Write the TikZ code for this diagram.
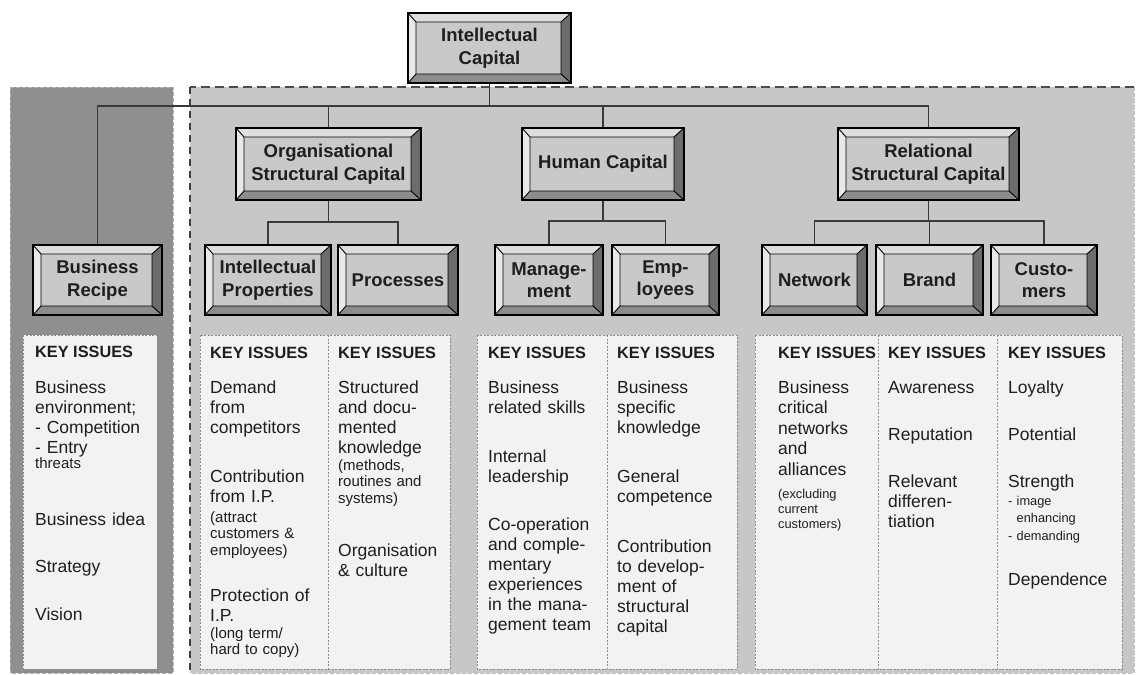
\documentclass[tikz,border=0pt]{standalone}
\usepackage{fontspec}
\setmainfont{Liberation Sans}
\usetikzlibrary{calc}

\definecolor{face}{HTML}{C9C9C9}
\definecolor{bvtop}{HTML}{DEDEDE}
\definecolor{bvleft}{HTML}{E8E8E8}
\definecolor{bvright}{HTML}{6C6C6C}
\definecolor{bvbottom}{HTML}{8C8C8C}
\definecolor{panelL}{HTML}{8F8F8F}
\definecolor{panelR}{HTML}{C7C7C7}
\definecolor{sheet}{HTML}{F2F2F2}
\definecolor{ink}{HTML}{1E1E1E}
\definecolor{wire}{HTML}{3A3A3A}

\tikzset{
  bevelbox/.style={rectangle, draw=black, line width=1.1pt, fill=face,
    align=center, inner sep=0pt, text=ink,
    font=\bfseries\fontsize{18.5}{22.5}\selectfont,
    path picture={
      \path (path picture bounding box.north west) coordinate (bvA)
            (path picture bounding box.north east) coordinate (bvB)
            (path picture bounding box.south east) coordinate (bvC)
            (path picture bounding box.south west) coordinate (bvD);
      \path ($(bvA)+(8pt,-9pt)$) coordinate (bva)
            ($(bvB)+(-10pt,-9pt)$) coordinate (bvb)
            ($(bvC)+(-10pt,9pt)$) coordinate (bvc)
            ($(bvD)+(8pt,9pt)$) coordinate (bvd);
      \fill[bvtop] (bvA) -- (bvB) -- (bvb) -- (bva) -- cycle;
      \fill[bvright] (bvB) -- (bvC) -- (bvc) -- (bvb) -- cycle;
      \fill[bvbottom] (bvC) -- (bvD) -- (bvd) -- (bvc) -- cycle;
      \fill[bvleft] (bvD) -- (bvA) -- (bva) -- (bvd) -- cycle;
      \draw[black, line width=0.9pt] (bva) rectangle (bvc)
            (bvA) -- (bva) (bvB) -- (bvb) (bvC) -- (bvc) (bvD) -- (bvd);
    }},
  conn/.style={draw=wire, line width=1.2pt},
  sheetbox/.style={fill=sheet, draw=black!45, line width=0.7pt, dash pattern=on 2pt off 1.5pt},
  kihead/.style={anchor=base west, inner sep=0pt, text=ink,
    font=\bfseries\fontsize{16.3}{19}\selectfont},
  kitext/.style={anchor=base west, inner sep=0pt, text=ink, text width=125pt, align=left,
    font=\fontsize{17.5}{20}\selectfont},
  kismall/.style={anchor=base west, inner sep=0pt, text=ink, text width=125pt, align=left,
    font=\fontsize{15}{16.8}\selectfont},
  kitiny/.style={anchor=base west, inner sep=0pt, text=ink, text width=125pt, align=left,
    font=\fontsize{12.8}{15}\selectfont},
}

\begin{document}
\begin{tikzpicture}[x=1pt, y=-1pt]
\useasboundingbox (0,0) rectangle (1136,675);
\fill[white] (0,0) rectangle (1136,675);

% background panels
\fill[panelL] (10,87) rectangle (173,673);
\draw[black!30, line width=0.8pt, dash pattern=on 4pt off 2pt] (10,87) rectangle (173,673);
\fill[panelR] (190,87) rectangle (1134,673);
\draw[black!25, line width=0.8pt, dash pattern=on 4pt off 2pt] (1134,87) -- (1134,673) -- (190,673);
\draw[black!70, line width=2pt, dash pattern=on 9pt off 5pt] (1134,87) -- (190,87);
\draw[black!75, line width=1.5pt, dash pattern=on 7pt off 5pt] (190,87) -- (190,673);

% key issue sheets
\path[sheetbox] (23,335) rectangle (157,669);
\path[sheetbox] (200,335) rectangle (450,669);
\draw[black!45, line width=0.7pt, dash pattern=on 2pt off 1.5pt] (328,335) -- (328,669);
\path[sheetbox] (477,335) rectangle (737,669);
\draw[black!45, line width=0.7pt, dash pattern=on 2pt off 1.5pt] (607,335) -- (607,669);
\path[sheetbox] (755,335) rectangle (1122,669);
\draw[black!45, line width=0.7pt, dash pattern=on 2pt off 1.5pt] (878,335) -- (878,669) (997,335) -- (997,669);

% hierarchy boxes
\node[bevelbox, minimum width=163pt, minimum height=70pt] (ic) at (489.5,48) {Intellectual\\Capital};
\node[bevelbox, minimum width=185pt, minimum height=72pt] (osc) at (328.5,164) {Organisational\\Structural Capital};
\node[bevelbox, minimum width=162pt, minimum height=72pt] (hc) at (603,164) {Human Capital};
\node[bevelbox, minimum width=181pt, minimum height=72pt] (rsc) at (928.5,164) {Relational\\Structural Capital};
\node[bevelbox, minimum width=129pt, minimum height=70pt] (br) at (97.5,280) {Business\\Recipe};
\node[bevelbox, minimum width=126pt, minimum height=70pt] (ip) at (268,280) {Intellectual\\Properties};
\node[bevelbox, minimum width=120pt, minimum height=70pt] (proc) at (398,280) {Processes};
\node[bevelbox, minimum width=108pt, minimum height=70pt] (mgmt) at (549,280) {Manage-\\ment};
\node[bevelbox, minimum width=107pt, minimum height=70pt] (emp) at (665.5,280) {Emp-\\loyees};
\node[bevelbox, minimum width=105pt, minimum height=70pt] (net) at (814.5,280) {Network};
\node[bevelbox, minimum width=107pt, minimum height=70pt] (brand) at (929.5,280) {Brand};
\node[bevelbox, minimum width=106pt, minimum height=70pt] (cust) at (1044,280) {Custo-\\mers};

% connectors
\coordinate (trunk) at (ic.south |- 0,106);
\coordinate (oscj) at (osc.south |- 0,222);
\coordinate (hcj) at (hc.south |- 0,221);
\coordinate (rscj) at (rsc.south |- 0,221);
\draw[conn] (ic.south) -- (trunk);
\draw[conn] (trunk) -| (br.north);
\draw[conn] (trunk) -| (osc.north);
\draw[conn] (trunk) -| (hc.north);
\draw[conn] (trunk) -| (rsc.north);
\draw[conn] (osc.south) -- (oscj);
\draw[conn] (oscj) -| (ip.north);
\draw[conn] (oscj) -| (proc.north);
\draw[conn] (hc.south) -- (hcj);
\draw[conn] (hcj) -| (mgmt.north);
\draw[conn] (hcj) -| (emp.north);
\draw[conn] (rsc.south) -- (rscj);
\draw[conn] (rscj) -| (net.north);
\draw[conn] (rscj) -| (brand.north);
\draw[conn] (rscj) -| (cust.north);

% key issues: business recipe
\node[kihead] (k0) at (35,357) {KEY ISSUES};
\node[kitext] (k0a) at (35,393) {Business\\environment;\\- Competition\\- Entry};
\node[kismall] (k0b) at (35,468) {threats};
\node[kitext] (k0c) at (35,525) {Business idea};
\node[kitext] (k0d) at (35,572) {Strategy};
\node[kitext] (k0e) at (35,620) {Vision};

% key issues: intellectual properties
\node[kihead] (k1) at (210,358) {KEY ISSUES};
\node[kitext] (k1a) at (210,393) {Demand\\from\\competitors};
\node[kitext] (k1b) at (210,482) {Contribution\\from I.P.};
\node[kismall] (k1c) at (210,522) {(attract\\customers \&\\employees)};
\node[kitext] (k1d) at (210,601) {Protection of\\I.P.};
\node[kismall] (k1e) at (210,638) {(long term/\\hard to copy)};

% key issues: processes
\node[kihead] (k2) at (338,358) {KEY ISSUES};
\node[kitext] (k2a) at (338,393) {Structured\\and docu-\\mented\\knowledge};
\node[kismall] (k2b) at (338,470) {(methods,\\routines and\\systems)};
\node[kitext] (k2c) at (338,556) {Organisation\\\& culture};

% key issues: management
\node[kihead] (k3) at (488,358) {KEY ISSUES};
\node[kitext] (k3a) at (488,393) {Business\\related skills};
\node[kitext] (k3b) at (488,462) {Internal\\leadership};
\node[kitext] (k3c) at (488,530) {Co-operation\\and comple-\\mentary\\experiences\\in the mana-\\gement team};

% key issues: employees
\node[kihead] (k4) at (617,358) {KEY ISSUES};
\node[kitext] (k4a) at (617,393) {Business\\specific\\knowledge};
\node[kitext] (k4b) at (617,482) {General\\competence};
\node[kitext] (k4c) at (617,552) {Contribution\\to develop-\\ment of\\structural\\capital};

% key issues: network
\node[kihead] (k5) at (778,358) {KEY ISSUES};
\node[kitext, font=\fontsize{17.5}{20.5}\selectfont] (k5a) at (778,393) {Business\\critical\\networks\\and\\alliances};
\node[kitiny] (k5b) at (778,498) {(excluding\\current\\customers)};

% key issues: brand
\node[kihead] (k6) at (888,358) {KEY ISSUES};
\node[kitext] (k6a) at (888,393) {Awareness};
\node[kitext] (k6b) at (888,440) {Reputation};
\node[kitext] (k6c) at (888,487) {Relevant\\differen-\\tiation};

% key issues: customers
\node[kihead] (k7) at (1008,358) {KEY ISSUES};
\node[kitext] (k7a) at (1008,393) {Loyalty};
\node[kitext] (k7b) at (1008,440) {Potential};
\node[kitext] (k7c) at (1008,487) {Strength};
\node[kitiny, font=\fontsize{12.8}{17.5}\selectfont] (k7d) at (1008,505) {- image\\\phantom{- }enhancing\\- demanding};
\node[kitext] (k7e) at (1008,585) {Dependence};
\end{tikzpicture}
\end{document}
